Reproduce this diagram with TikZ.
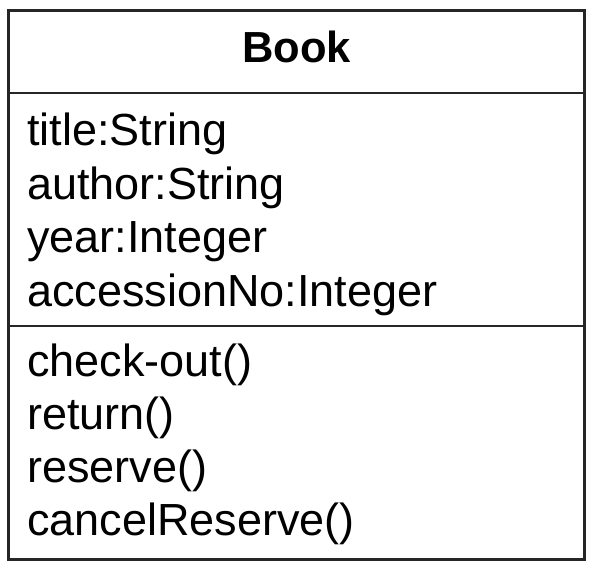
\documentclass[tikz,border=0pt]{standalone}
\usepackage{fontspec}
\setmainfont{Liberation Sans}
\begin{document}
\begin{tikzpicture}[x=1pt,y=-1pt,
  member/.style={anchor=base west,inner sep=0pt,font=\fontsize{45}{50}\selectfont},
  title/.style={anchor=base,inner sep=0pt,font=\fontsize{43.5}{50}\selectfont\bfseries},
  frame/.style={line width=2.6pt,draw=black!85}]
\useasboundingbox (0,0) rectangle (598,570);
\draw[frame] (8.5,10.5) rectangle (584.5,559.5);
\draw[frame,line width=2pt] (8.5,92.5) -- (584.5,92.5);
\draw[frame,line width=2pt] (8.5,325.5) -- (584.5,325.5);
\node[title] (cls) at (296.5,63) {Book};
\node[member] (a1) at (27,145) {title:String};
\node[member] (a2) at (27,199) {author:String};
\node[member] (a3) at (27,252.5) {year:Integer};
\node[member] (a4) at (27,306) {accessionNo:Integer};
\node[member] (m1) at (27,376) {check-out()};
\node[member] (m2) at (27,429) {return()};
\node[member] (m3) at (27,482) {reserve()};
\node[member] (m4) at (27,535) {cancelReserve()};
\end{tikzpicture}
\end{document}
